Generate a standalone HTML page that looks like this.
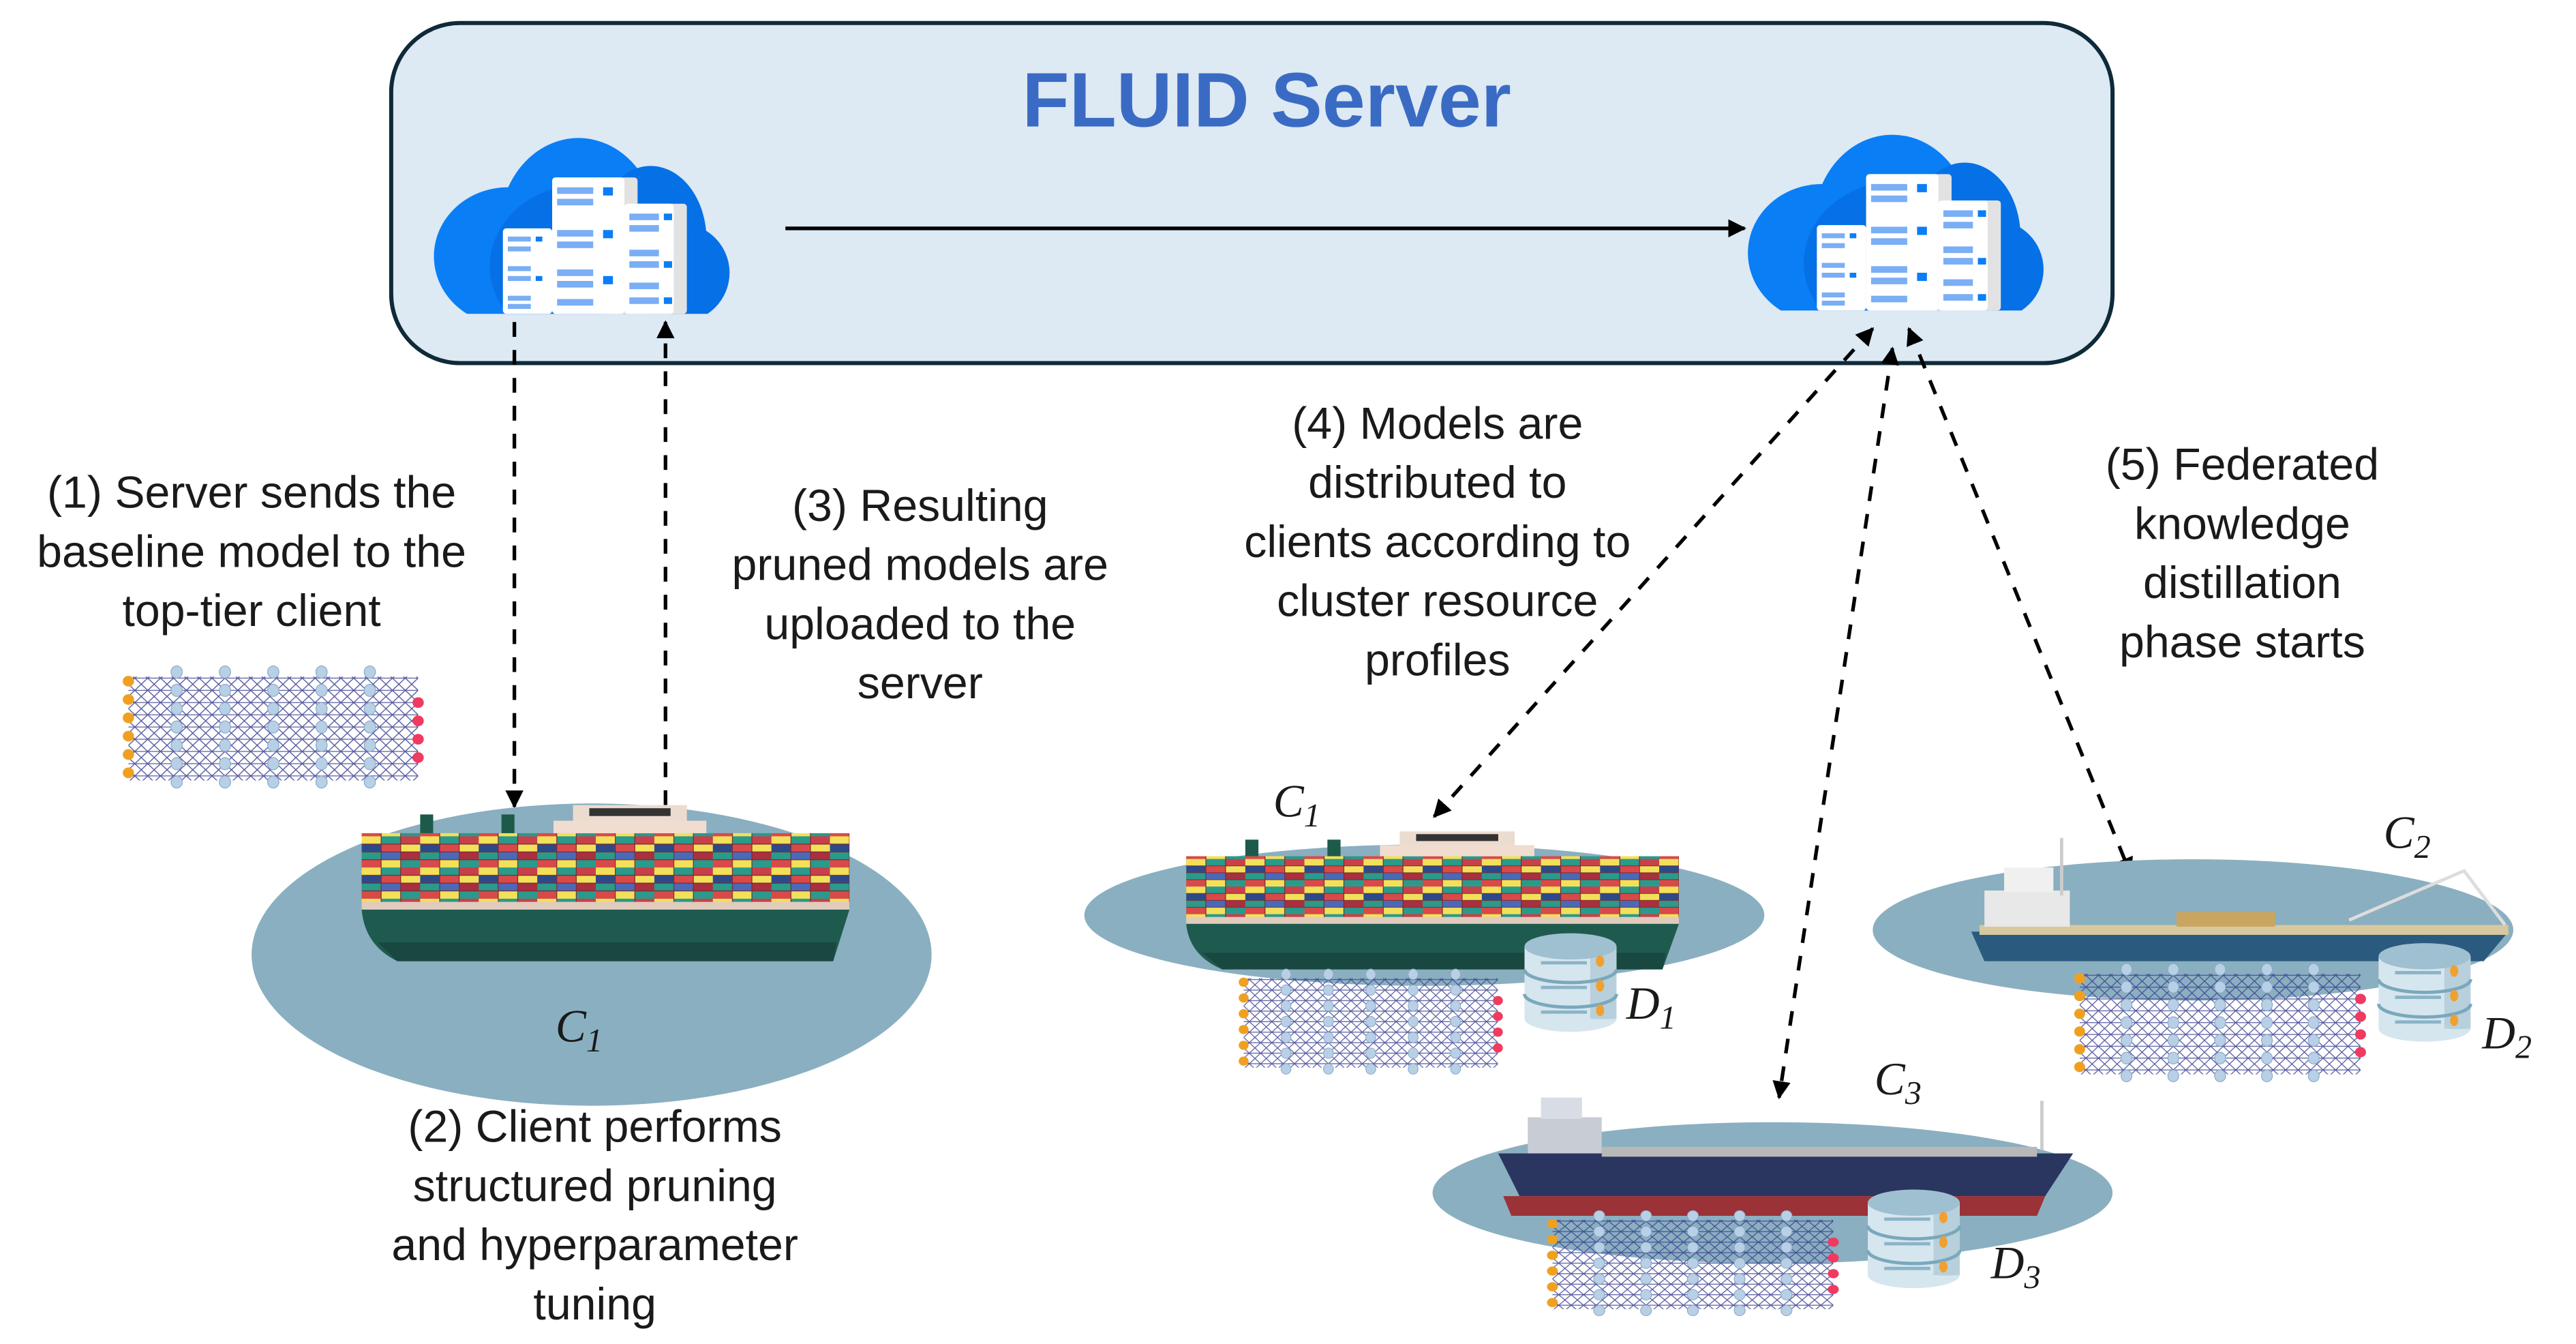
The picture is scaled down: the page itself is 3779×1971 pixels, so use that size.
<!DOCTYPE html>
<html><head><meta charset="utf-8"><style>
html,body{margin:0;padding:0;background:#fff}
svg{display:block}
text{font-family:"Liberation Sans",sans-serif;fill:#1a1a1a}
.m{font-family:"Liberation Serif",serif;font-style:italic}
</style></head><body>
<svg width="3779" height="1971" viewBox="0 0 1568 818" xmlns="http://www.w3.org/2000/svg">
<defs>
<marker id="ah" viewBox="0 0 10 10" refX="9" refY="5" markerWidth="5" markerHeight="5" orient="auto-start-reverse"><path d="M0,0 L10,5 L0,10 z" fill="#000"/></marker>
<clipPath id="cc"><rect x="-5" y="-5" width="200" height="112"/></clipPath>
<pattern id="cont" width="36" height="20" patternUnits="userSpaceOnUse">
<rect width="36" height="20" fill="#c8404a"/>
<rect x="0" y="0" width="12" height="5" fill="#f3e05a"/><rect x="12" y="0" width="12" height="5" fill="#2a9a8a"/><rect x="24" y="0" width="12" height="5" fill="#c8404a"/>
<rect x="0" y="5" width="12" height="5" fill="#2c4a8a"/><rect x="12" y="5" width="12" height="5" fill="#d84a4a"/><rect x="24" y="5" width="12" height="5" fill="#f3e05a"/>
<rect x="0" y="10" width="12" height="5" fill="#2a9a8a"/><rect x="12" y="10" width="12" height="5" fill="#4a6ab8"/><rect x="24" y="10" width="12" height="5" fill="#a83040"/>
<rect x="0" y="15" width="12" height="5" fill="#d84a4a"/><rect x="12" y="15" width="12" height="5" fill="#f3e05a"/><rect x="24" y="15" width="12" height="5" fill="#2a9a8a"/>
<path d="M0,5H36M0,10H36M0,15H36M12,0V20M24,0V20" stroke="#7a2a30" stroke-width="0.5"/>
</pattern>
<pattern id="web" width="8" height="8" patternUnits="userSpaceOnUse">
<path d="M0,0L8,8M8,0L0,8M0,4H8" stroke="#3a3f8f" stroke-width="0.6"/>
</pattern>
<g id="cloud">
<g clip-path="url(#cc)">
<ellipse cx="45" cy="72" rx="45" ry="42" fill="#0a7ef5"/>
<ellipse cx="88" cy="55" rx="48" ry="55" fill="#0a7ef5"/>
<ellipse cx="132" cy="62" rx="34" ry="45" fill="#0670e6"/>
<ellipse cx="150" cy="82" rx="30" ry="30" fill="#0670e6"/>
<ellipse cx="92" cy="78" rx="58" ry="50" fill="#0670e6"/>
</g>
<rect x="42" y="55" width="30" height="52" rx="2" fill="#fff"/>
<rect x="72" y="24" width="52" height="83" rx="2" fill="#e2e2e2"/>
<rect x="72" y="24" width="44" height="83" rx="2" fill="#fff"/>
<rect x="116" y="40" width="38" height="67" rx="2" fill="#e2e2e2"/>
<rect x="116" y="40" width="30" height="67" rx="2" fill="#fff"/>
<g fill="#7aaef5">
<rect x="45" y="60" width="14" height="3"/><rect x="45" y="66" width="14" height="3"/><rect x="45" y="78" width="14" height="3"/><rect x="45" y="84" width="14" height="3"/><rect x="45" y="96" width="14" height="3"/><rect x="45" y="101" width="14" height="3"/>
<rect x="75" y="30" width="22" height="4"/><rect x="75" y="37" width="22" height="4"/><rect x="75" y="56" width="22" height="4"/><rect x="75" y="63" width="22" height="4"/><rect x="75" y="80" width="22" height="4"/><rect x="75" y="87" width="22" height="4"/><rect x="75" y="98" width="22" height="4"/>
<rect x="119" y="46" width="18" height="4"/><rect x="119" y="53" width="18" height="4"/><rect x="119" y="68" width="18" height="4"/><rect x="119" y="75" width="18" height="4"/><rect x="119" y="88" width="18" height="4"/><rect x="119" y="97" width="18" height="4"/>
</g>
<g fill="#0a7ef5">
<rect x="62" y="60" width="4" height="3"/><rect x="62" y="84" width="4" height="3"/><rect x="103" y="30" width="6" height="5"/><rect x="103" y="56" width="6" height="5"/><rect x="103" y="84" width="6" height="5"/><rect x="140" y="46" width="5" height="4"/><rect x="140" y="75" width="5" height="4"/><rect x="140" y="97" width="5" height="4"/>
</g>
</g>
<g id="nn">
<rect x="0" y="3" width="180" height="68" fill="url(#web)" opacity="0.85"/>
<g fill="#b8d0e6" stroke="#8aa8c8" stroke-width="0.5">
<g id="col"><ellipse cx="30" cy="0" rx="3.5" ry="4"/><ellipse cx="30" cy="12" rx="3.5" ry="4"/><ellipse cx="30" cy="24" rx="3.5" ry="4"/><ellipse cx="30" cy="36" rx="3.5" ry="4"/><ellipse cx="30" cy="48" rx="3.5" ry="4"/><ellipse cx="30" cy="60" rx="3.5" ry="4"/><ellipse cx="30" cy="72" rx="3.5" ry="4"/></g>
<use href="#col" x="30"/><use href="#col" x="60"/><use href="#col" x="90"/><use href="#col" x="120"/>
</g>
<g fill="#f0a020"><circle cx="0" cy="6" r="3.5"/><circle cx="0" cy="18" r="3.5"/><circle cx="0" cy="30" r="3.5"/><circle cx="0" cy="42" r="3.5"/><circle cx="0" cy="54" r="3.5"/><circle cx="0" cy="66" r="3.5"/></g>
<g fill="#f03a60"><circle cx="180" cy="20" r="3.5"/><circle cx="180" cy="32" r="3.5"/><circle cx="180" cy="44" r="3.5"/><circle cx="180" cy="56" r="3.5"/></g>
</g>
<g id="db">
<path d="M0,8 V52 A28,8 0 0 0 56,52 V8 Z" fill="#d6e6ee"/>
<path d="M40,8 V52 A28,8 0 0 0 56,52 V8 Z" fill="#b8d0dc"/>
<ellipse cx="28" cy="8" rx="28" ry="8" fill="#9ec0d0"/>
<path d="M0,22 A28,8 0 0 0 56,22 M0,37 A28,8 0 0 0 56,37" fill="none" stroke="#7aa8bc" stroke-width="2"/>
<g stroke="#8ab4c8" stroke-width="2"><path d="M10,18H38M10,33H38M10,48H38"/></g>
<g fill="#f0a030"><ellipse cx="46" cy="17" rx="2.5" ry="3.5"/><ellipse cx="46" cy="32" rx="2.5" ry="3.5"/><ellipse cx="46" cy="47" rx="2.5" ry="3.5"/></g>
</g>
<g id="cship">
<rect x="0" y="18" width="300" height="48" fill="url(#cont)"/>
<rect x="130" y="0" width="70" height="18" fill="#ecdcd0"/>
<rect x="118" y="10" width="94" height="8" fill="#f0ddd0"/>
<rect x="140" y="2" width="50" height="5" fill="#333"/>
<rect x="36" y="6" width="8" height="12" fill="#1e5a4a"/><rect x="86" y="6" width="8" height="12" fill="#1e5a4a"/>
<rect x="0" y="62" width="300" height="5" fill="#e0cbbd"/>
<path d="M0,67 H300 L290,100 H22 Q2,90 0,67 Z" fill="#1f5a4e"/>
<path d="M10,88 H292 L290,100 H22 Z" fill="#184840"/>
</g>
</defs>

<!-- server box -->
<rect x="238" y="14" width="1048" height="207" rx="42" fill="#dde9f3" stroke="#0f2a38" stroke-width="2.5"/>
<text x="771" y="77" text-anchor="middle" font-size="47" font-weight="bold" style="fill:#3a6bc4">FLUID Server</text>
<use href="#cloud" x="264" y="84"/>
<use href="#cloud" x="1064" y="82"/>
<line x1="478" y1="139" x2="1062" y2="139" stroke="#000" stroke-width="2.2" marker-end="url(#ah)"/>

<!-- dashed connectors -->
<g stroke="#000" stroke-width="2.2" stroke-dasharray="9,8" fill="none">
<line x1="313" y1="196" x2="313" y2="491" marker-end="url(#ah)"/>
<line x1="405" y1="490" x2="405" y2="196" marker-end="url(#ah)"/>
<line x1="1140" y1="200" x2="873" y2="497" marker-start="url(#ah)" marker-end="url(#ah)"/>
<line x1="1152" y1="212" x2="1083" y2="668" marker-start="url(#ah)" marker-end="url(#ah)"/>
<line x1="1162" y1="200" x2="1297" y2="532" marker-start="url(#ah)" marker-end="url(#ah)"/>
</g>

<!-- text blocks -->
<g font-size="27.5" text-anchor="middle">
<text x="153" y="309">(1) Server sends the</text><text x="153" y="345">baseline model to the</text><text x="153" y="381">top-tier client</text>
<text x="560" y="317">(3) Resulting</text><text x="560" y="353">pruned models are</text><text x="560" y="389">uploaded to the</text><text x="560" y="425">server</text>
<text x="875" y="267">(4) Models are</text><text x="875" y="303">distributed to</text><text x="875" y="339">clients according to</text><text x="875" y="375">cluster resource</text><text x="875" y="411">profiles</text>
<text x="1365" y="292">(5) Federated</text><text x="1365" y="328">knowledge</text><text x="1365" y="364">distillation</text><text x="1365" y="400">phase starts</text>
<text x="362" y="695">(2) Client performs</text><text x="362" y="731">structured pruning</text><text x="362" y="767">and hyperparameter</text><text x="362" y="803">tuning</text>
</g>

<!-- left NN -->
<use href="#nn" transform="translate(78,409) scale(0.98,0.93)"/>

<!-- ellipses -->
<ellipse cx="360" cy="581" rx="207" ry="92" fill="#8aafc0"/>
<ellipse cx="867" cy="557" rx="207" ry="43" fill="#8aafc0"/>
<ellipse cx="1335" cy="566" rx="195" ry="43" fill="#8aafc0"/>
<ellipse cx="1079" cy="726" rx="207" ry="43" fill="#8aafc0"/>

<!-- ships -->
<use href="#cship" transform="translate(220,490) scale(0.99,0.95)"/>
<use href="#cship" transform="translate(722,506) scale(1,0.84)"/>
<!-- C2 ship -->
<g>
<path d="M1200,567 H1527 L1512,585 H1208 Z" fill="#2a5a7e"/>
<rect x="1205" y="563" width="322" height="6" fill="#d8c8a0"/>
<rect x="1208" y="542" width="52" height="22" fill="#e8e8e8"/>
<rect x="1220" y="528" width="30" height="15" fill="#f0f0f0"/>
<rect x="1325" y="555" width="60" height="9" fill="#c9a560"/>
<line x1="1255" y1="510" x2="1255" y2="545" stroke="#ccc" stroke-width="2"/>
<path d="M1430,560 L1500,530 L1525,563" stroke="#ddd" stroke-width="2" fill="none"/>
</g>
<!-- C3 ship -->
<g>
<path d="M912,702 H1262 L1245,728 H925 Z" fill="#2a3560"/>
<path d="M915,728 H1245 L1240,740 H920 Z" fill="#9a3238"/>
<rect x="975" y="698" width="265" height="6" fill="#b8b8b8"/>
<rect x="930" y="680" width="45" height="22" fill="#c8ccd4"/>
<rect x="938" y="668" width="25" height="13" fill="#d8dce4"/>
<line x1="1243" y1="670" x2="1243" y2="700" stroke="#ccc" stroke-width="2"/>
</g>

<!-- NNs under clients -->
<use href="#nn" transform="translate(757,593) scale(0.86,0.8)"/>
<use href="#nn" transform="translate(1266,590) scale(0.95,0.9)"/>
<use href="#nn" transform="translate(945,740) scale(0.95,0.8)"/>

<!-- databases -->
<use href="#db" x="928" y="568"/>
<use href="#db" x="1448" y="574"/>
<use href="#db" x="1137" y="724"/>

<!-- labels -->
<g font-size="28">
<text class="m" x="338" y="634">C<tspan font-size="20" dy="6">1</tspan></text>
<text class="m" x="775" y="497">C<tspan font-size="20" dy="6">1</tspan></text>
<text class="m" x="1451" y="516">C<tspan font-size="20" dy="6">2</tspan></text>
<text class="m" x="1141" y="666">C<tspan font-size="20" dy="6">3</tspan></text>
<text class="m" x="990" y="620">D<tspan font-size="20" dy="6">1</tspan></text>
<text class="m" x="1511" y="638">D<tspan font-size="20" dy="6">2</tspan></text>
<text class="m" x="1212" y="778">D<tspan font-size="20" dy="6">3</tspan></text>
</g>
</svg>
</body></html>
